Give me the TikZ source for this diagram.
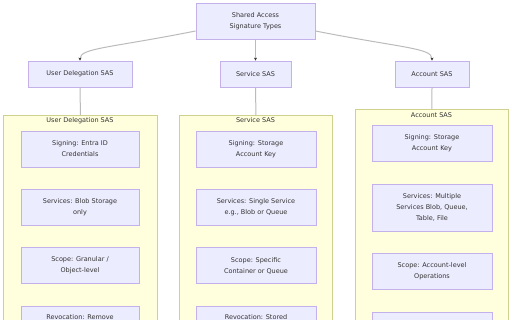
\documentclass[tikz,border=0pt]{standalone}
\usepackage{fontspec}
\setmainfont{DejaVu Sans}
\usetikzlibrary{arrows.meta}
\definecolor{nodefill}{HTML}{ECECFF}
\definecolor{nodeline}{HTML}{9370DB}
\definecolor{clfill}{HTML}{FFFFDE}
\definecolor{clline}{HTML}{AAAA33}
\definecolor{txt}{HTML}{333333}
\definecolor{edge}{HTML}{BBBBBB}
\begin{document}
\begin{tikzpicture}[x=1pt,y=-1pt,
 box/.style={draw=nodeline!55, fill=nodefill, line width=0.9pt, inner sep=0pt, text=txt,
   font=\fontsize{6.5}{11}\selectfont, align=center},
 cluster/.style={draw=clline!55, fill=clfill, line width=0.9pt, inner sep=0pt, anchor=north west},
 ctitle/.style={text=txt, font=\fontsize{6.5}{11}\selectfont},
 link/.style={draw=edge, line width=1pt},
 arr/.style={link, -{Stealth[length=3pt,width=3pt,color=txt]}}
]
\useasboundingbox (0,0) rectangle (512,320);
\clip (0,0) rectangle (512,320);
\fill[white] (0,0) rectangle (512,320);

% top
\node[box, minimum width=119, minimum height=36] (top) at (255.5,21) {Shared Access\\Signature Types};
\node[box, minimum width=104, minimum height=26] (ud) at (80,74) {User Delegation SAS};
\node[box, minimum width=71, minimum height=26] (svc) at (255.5,74) {Service SAS};
\node[box, minimum width=74, minimum height=26] (acc) at (432,74) {Account SAS};

\draw[arr] ([yshift=-10pt]top.west) .. controls (110,48) and (80,48) .. (ud.north);
\draw[arr] (top.south) -- (svc.north);
\draw[arr] ([yshift=-10pt]top.east) .. controls (402,48) and (432,48) .. (acc.north);

% clusters
\node[cluster, minimum width=154, minimum height=230] (c1) at (3,115) {};
\node[cluster, minimum width=153, minimum height=230] (c2) at (179,115) {};
\node[cluster, minimum width=153, minimum height=236] (c3) at (355,109) {};

\draw[link] (ud.south) -- (c1.north);
\draw[link] (svc.south) -- (c2.north);
\draw[link] (acc.south) -- (c3.north);

\node[ctitle] (c1t) at (80,120.5) {User Delegation SAS};
\node[ctitle] (c2t) at (255.5,120.5) {Service SAS};
\node[ctitle] (c3t) at (431.5,115) {Account SAS};

% cluster 1
\node[box, minimum width=118, minimum height=36] (u1) at (80,149) {Signing: Entra ID\\Credentials};
\node[box, minimum width=118, minimum height=36] (u2) at (80,207) {Services: Blob Storage\\only};
\node[box, minimum width=118, minimum height=36] (u3) at (80,265.5) {Scope: Granular /\\Object-level};
\node[box, minimum width=118, minimum height=36] (u4) at (80,324) {Revocation: Remove\\\strut};

% cluster 2
\node[box, minimum width=120, minimum height=36] (s1) at (256,149) {Signing: Storage\\Account Key};
\node[box, minimum width=120, minimum height=36] (s2) at (256,207) {Services: Single Service\\e.g., Blob or Queue};
\node[box, minimum width=120, minimum height=36] (s3) at (256,265.5) {Scope: Specific\\Container or Queue};
\node[box, minimum width=120, minimum height=36] (s4) at (256,324) {Revocation: Stored\\\strut};

% cluster 3
\node[box, minimum width=120, minimum height=36] (a1) at (432,143) {Signing: Storage\\Account Key};
\node[box, minimum width=120, minimum height=47] (a2) at (432,207.5) {Services: Multiple\\Services Blob, Queue,\\Table, File};
\node[box, minimum width=120, minimum height=36] (a3) at (432,271) {Scope: Account-level\\Operations};
\node[box, minimum width=120, minimum height=36] (a4) at (432,330) {};
\end{tikzpicture}
\end{document}
